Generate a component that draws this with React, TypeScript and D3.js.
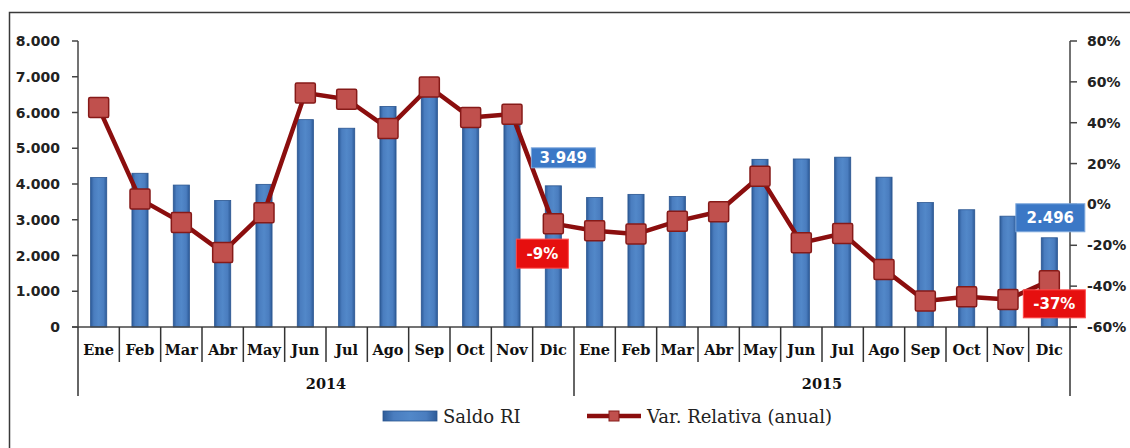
import React from 'react';
import * as d3 from 'd3';

const months = ['Ene', 'Feb', 'Mar', 'Abr', 'May', 'Jun', 'Jul', 'Ago', 'Sep', 'Oct', 'Nov', 'Dic'];
const years = ['2014', '2015'];

// Saldo RI (millones), Ene 2014 .. Dic 2015
const saldo = [4180, 4300, 3970, 3540, 3990, 5800, 5560, 6170, 6700, 5870, 5950, 3949,
  3620, 3710, 3650, 3300, 4690, 4700, 4750, 4190, 3480, 3280, 3100, 2496];

// Var. Relativa (anual), %
const variacion = [47.4, 2.6, -8.8, -23.5, -4.1, 54.6, 51.5, 37.2, 57.5, 42.5, 44.2, -9.4,
  -12.9, -14.5, -8.2, -3.6, 13.8, -18.8, -14.2, -31.8, -47.3, -45.2, -46.5, -37.4];

const leftTicks = [0, 1000, 2000, 3000, 4000, 5000, 6000, 7000, 8000];
const rightTicks = [-60, -40, -20, 0, 20, 40, 60, 80];

// labels drawn on the chart: which series, which point
const callouts = [
  { serie: 'saldo', idx: 11, dx: 10, dy: -28, w: 64, h: 20, fill: '#3b78c6' },
  { serie: 'var', idx: 11, dx: -11, dy: 30, w: 52, h: 29, fill: '#e60f0f' },
  { serie: 'saldo', idx: 23, dx: 1, dy: -20, w: 69, h: 28, fill: '#3b78c6' },
  { serie: 'var', idx: 23, dx: 5, dy: 23, w: 62, h: 28, fill: '#e60f0f' },
];

const W = 1130, H = 448;
const margin = { top: 41, right: 60, bottom: 121, left: 78 };

const es = d3.formatLocale({ decimal: ',', thousands: '.', grouping: [3], currency: ['', ''] });
const fmtNum = es.format(',d');
const fmtPct = (v: number) => `${Math.round(v)}%`;

const sansBold = { fontFamily: 'DejaVu Sans', fontWeight: 700 as const };
const serifBold = { fontFamily: 'DejaVu Serif', fontWeight: 700 as const };
const serif = { fontFamily: '"DejaVu Serif", serif' };

export default function App() {
  const labels = years.flatMap(y => months.map(m => ({ m, y })));
  const idx = d3.range(labels.length);

  const x = d3.scaleBand<number>().domain(idx).range([margin.left, W - margin.right]).padding(0);
  const ySaldo = d3.scaleLinear().domain([0, 8000]).range([H - margin.bottom, margin.top]);
  const yVar = d3.scaleLinear().domain([-60, 80]).range([H - margin.bottom, margin.top]);

  const bw = x.bandwidth();
  const barW = bw * 0.39;
  const cx = (i: number) => (x(i) as number) + bw / 2;
  const y0 = ySaldo(0);
  const xL = margin.left, xR = W - margin.right;

  const line = d3.line<number>().x((_, i) => cx(i)).y(d => yVar(d));

  const yearSpan = months.length;
  const mk = 20;

  return (
    <svg width={W} height={H} style={{ position: 'absolute', left: 0, top: 0, background: '#fff' }}>
      <defs>
        <linearGradient id="barGrad" x1="0" x2="1" y1="0" y2="0">
          <stop offset="0" stopColor="#2d5b98" />
          <stop offset="0.2" stopColor="#4a7dbf" />
          <stop offset="0.5" stopColor="#5288c9" />
          <stop offset="0.8" stopColor="#4a7dbf" />
          <stop offset="1" stopColor="#2d5b98" />
        </linearGradient>
      </defs>

      {/* frame */}
      <path d={`M9.5,${H} V12.5 H${W}`} fill="none" stroke="#3a3a3a" strokeWidth={1.5} />

      {/* bars */}
      {saldo.map((v, i) => (
        <rect key={'b' + i} x={cx(i) - barW / 2} y={ySaldo(v)} width={barW} height={y0 - ySaldo(v)}
          fill="url(#barGrad)" stroke="#2a5590" strokeWidth={0.8} />
      ))}

      {/* left axis */}
      <line x1={xL} x2={xL} y1={margin.top} y2={y0} stroke="#444" strokeWidth={1.5} />
      {leftTicks.map(t => (
        <g key={'lt' + t}>
          <line x1={xL - 6} x2={xL} y1={ySaldo(t)} y2={ySaldo(t)} stroke="#444" strokeWidth={1.5} />
          <text x={xL - 18} y={ySaldo(t)} dy="0.36em" textAnchor="end" fontSize={14} fill="#222" style={sansBold}>
            {fmtNum(t)}
          </text>
        </g>
      ))}

      {/* right axis */}
      <line x1={xR} x2={xR} y1={margin.top} y2={y0} stroke="#444" strokeWidth={1.5} />
      {rightTicks.map(t => (
        <g key={'rt' + t}>
          <line x1={xR} x2={xR + 7} y1={yVar(t)} y2={yVar(t)} stroke="#444" strokeWidth={1.5} />
          <text x={xR + 17} y={yVar(t)} dy="0.36em" textAnchor="start" fontSize={14} fill="#222" style={sansBold}>
            {t}%
          </text>
        </g>
      ))}

      {/* category axis */}
      <line x1={xL - 6} x2={xR + 7} y1={y0} y2={y0} stroke="#444" strokeWidth={1.5} />
      {d3.range(labels.length + 1).map(i => {
        const bx = i < labels.length ? (x(i) as number) : xR;
        const long = i % yearSpan === 0;
        return <line key={'sep' + i} x1={bx} x2={bx} y1={y0} y2={long ? 396 : 362} stroke="#333" strokeWidth={1.5} />;
      })}
      {labels.map((d, i) => (
        <text key={'m' + i} x={cx(i)} y={355} textAnchor="middle" fontSize={14.5} fill="#111" style={serifBold}>
          {d.m}
        </text>
      ))}
      {years.map((yr, k) => {
        const a = x(k * yearSpan) as number;
        const b = k === years.length - 1 ? xR : (x((k + 1) * yearSpan) as number);
        return (
          <text key={'y' + yr} x={(a + b) / 2} y={389} textAnchor="middle" fontSize={14.5} fill="#111" style={serifBold}>
            {yr}
          </text>
        );
      })}

      {/* line */}
      <path d={line(variacion) || ''} fill="none" stroke="#8b0e0e" strokeWidth={4.5} strokeLinejoin="round" />
      {variacion.map((v, i) => (
        <rect key={'p' + i} x={cx(i) - mk / 2} y={yVar(v) - mk / 2} width={mk} height={mk} rx={1.5}
          fill="#c0504d" stroke="#861a18" strokeWidth={1.5} />
      ))}

      {/* callouts */}
      {callouts.map((c, k) => {
        const isSaldo = c.serie === 'saldo';
        const v = isSaldo ? saldo[c.idx] : variacion[c.idx];
        const px = cx(c.idx) + c.dx;
        const py = (isSaldo ? ySaldo(v) : yVar(v)) + c.dy;
        return (
          <g key={'c' + k}>
            <rect x={px - c.w / 2} y={py - c.h / 2} width={c.w} height={c.h} fill={c.fill}
              stroke={isSaldo ? '#7ea8dc' : '#ff4a4a'} strokeWidth={1} />
            <text x={px} y={py} dy="0.36em" textAnchor="middle" fontSize={15} fill="#fff" style={sansBold}>
              {isSaldo ? fmtNum(v) : fmtPct(v)}
            </text>
          </g>
        );
      })}

      {/* legend */}
      <g>
        <rect x={383} y={411} width={54} height={10} fill="url(#barGrad)" stroke="#2a5590" strokeWidth={0.8} />
        <text x={443} y={422.5} fontSize={18} fill="#222" style={serif}>Saldo RI</text>
        <line x1={587} x2={641} y1={416} y2={416} stroke="#8b0e0e" strokeWidth={4.5} />
        <rect x={609} y={411} width={10} height={10} fill="#c0504d" stroke="#861a18" strokeWidth={1} />
        <text x={647} y={422.5} fontSize={18} fill="#222" style={serif}>Var. Relativa (anual)</text>
      </g>
    </svg>
  );
}
